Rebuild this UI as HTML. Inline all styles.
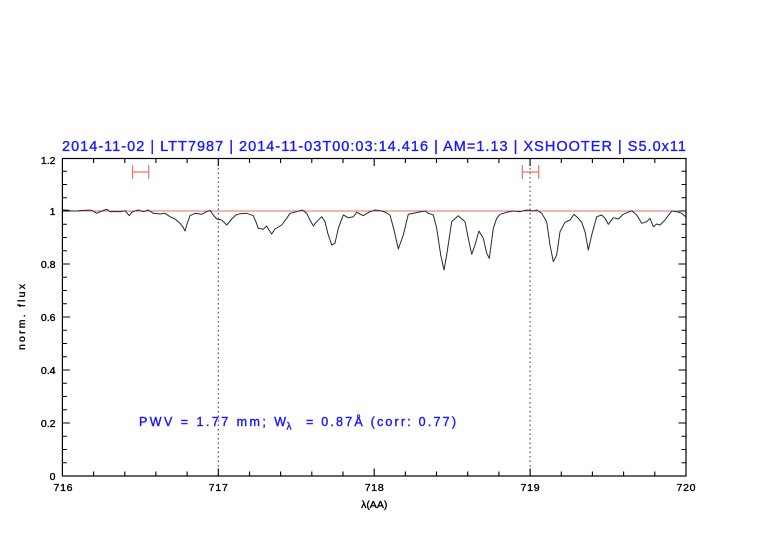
<!DOCTYPE html>
<html><head><meta charset="utf-8"><style>
html,body{margin:0;padding:0;background:#fff;}
svg{display:block;}
text{font-family:"Liberation Sans",sans-serif;}
</style></head><body>
<svg width="782" height="542" viewBox="0 0 782 542" xmlns="http://www.w3.org/2000/svg">
<rect width="782" height="542" fill="#fff"/>
<!-- title -->
<text x="62" y="151" font-size="14.5" fill="#1a1aff" textLength="624" lengthAdjust="spacing" stroke="#1a1aff" stroke-width="0.35">2014-11-02 | LTT7987 | 2014-11-03T00:03:14.416 | AM=1.13 | XSHOOTER | S5.0x11</text>

<!-- dotted verticals -->
<path d="M218.3 159V476M530.1 159V476" stroke="#333" stroke-width="1" stroke-dasharray="1.5,3" fill="none"/>

<!-- unity line -->
<path d="M62.4 211H686" stroke="#e86868" stroke-width="1" fill="none"/>

<!-- red markers -->
<g stroke="#f07070" stroke-width="1.2" fill="none">
<path d="M132.5 172H148.7M132.5 165V179M148.7 165V179"/>
<path d="M522.3 172H538.7M522.3 165V179M538.7 165V179"/>
</g>

<!-- spectrum -->
<polyline fill="none" stroke="#2a2a2a" stroke-width="1" stroke-linejoin="round" stroke-linecap="round" points="
62.4,210 66.7,210 71,211 76.7,211 81,210.5 86.7,210.3 91.7,210.3 96.7,213.3 101.7,211 106.7,209.3 110,211.7 115,211.5 120,211.7 125,210.7 129.3,215.7 131.7,212.3 135,211 138.3,210 143.3,211.7 148.3,210 153.3,213.3 160,214 165,213.3 170,216.7 175,219 180,223.3 183,227 185,231 187,224 190,215.7 195,213.3 201.7,214.3 206.7,211.7 210,210.3 213.3,215 216.7,219 221.7,220 226.7,225 231.7,219 236,215 240,213.7 246.7,213.3 253.3,215.7 256,222 258.3,228.3 263.3,229.3 266.7,226 269,230 271.7,234 275,229 281.7,225 286.7,218.3 290,213.3 296.7,211.7 302.3,210 306.7,213.3 310,220 313.3,226 316.7,221.7 321.7,216.7 325,221.7 328,234 331.7,245 335,243.3 338.3,228.3 343.3,215 348.3,217.7 353.3,216.7 356.7,212.3 360,214 363.3,215.7 370,211.7 375,210 381.7,211 386,212.5 390,215 394,230 398.3,249 403.3,235 408.3,214.3 413.3,213.3 418.3,212.3 425,211 428.3,213.3 433.3,215 436.7,228.3 440.7,255 444,270 446.7,255 451.7,221.7 458.3,215.7 465,221.7 468.3,238.3 471.7,254.3 475,245 479,231 483.3,238.3 486.7,253.3 489.3,258.3 493.3,228.3 496.7,218.3 500,214.3 506.7,212.3 513.3,211 520,211.7 526.7,210 533.3,211 536.7,210 541.7,213.3 546.7,221.7 550,245 553.3,261.7 556.7,255 560,231.7 565,222.3 570,220 574,214.3 578.3,218.3 581.7,222.3 585,231.7 588.3,250 591.7,235 596.7,216.7 601.7,215 605,218.3 608.3,224.3 613.3,217.7 618.3,219 623.3,214.3 631.7,210.7 636.7,215 641.7,223.3 646.7,221.7 650,218.3 653.3,226.7 656.7,224 660,225 665,220 671.7,211 676.7,211.7 681.7,213.3 686,217"/>

<!-- axes box -->
<rect x="62.4" y="158.5" width="623.6" height="317.5" fill="none" stroke="#000" stroke-width="1.2"/>

<!-- ticks -->
<g stroke="#000" stroke-width="1.1" fill="none">
<path d="M93.6 476v-4.5M124.8 476v-4.5M155.9 476v-4.5M187.1 476v-4.5M249.5 476v-4.5M280.6 476v-4.5M311.8 476v-4.5M343 476v-4.5M405.4 476v-4.5M436.5 476v-4.5M467.7 476v-4.5M498.9 476v-4.5M561.3 476v-4.5M592.4 476v-4.5M623.6 476v-4.5M654.8 476v-4.5"/>
<path d="M218.3 476v-7.5M374.2 476v-7.5M530.1 476v-7.5"/>
<path d="M93.6 158.5v4.5M124.8 158.5v4.5M155.9 158.5v4.5M187.1 158.5v4.5M249.5 158.5v4.5M280.6 158.5v4.5M311.8 158.5v4.5M343 158.5v4.5M405.4 158.5v4.5M436.5 158.5v4.5M467.7 158.5v4.5M498.9 158.5v4.5M561.3 158.5v4.5M592.4 158.5v4.5M623.6 158.5v4.5M654.8 158.5v4.5"/>
<path d="M218.3 158.5v7.5M374.2 158.5v7.5M530.1 158.5v7.5"/>
<path d="M62.4 462.75h4.5M62.4 449.5h4.5M62.4 436.25h4.5M62.4 409.75h4.5M62.4 396.5h4.5M62.4 383.25h4.5M62.4 356.75h4.5M62.4 343.5h4.5M62.4 330.25h4.5M62.4 303.75h4.5M62.4 290.5h4.5M62.4 277.25h4.5M62.4 250.75h4.5M62.4 237.5h4.5M62.4 224.25h4.5M62.4 197.75h4.5M62.4 184.5h4.5M62.4 171.25h4.5"/>
<path d="M62.4 423h7.5M62.4 370h7.5M62.4 317h7.5M62.4 264h7.5M62.4 211h7.5"/>
<path d="M686 462.75h-4.5M686 449.5h-4.5M686 436.25h-4.5M686 409.75h-4.5M686 396.5h-4.5M686 383.25h-4.5M686 356.75h-4.5M686 343.5h-4.5M686 330.25h-4.5M686 303.75h-4.5M686 290.5h-4.5M686 277.25h-4.5M686 250.75h-4.5M686 237.5h-4.5M686 224.25h-4.5M686 197.75h-4.5M686 184.5h-4.5M686 171.25h-4.5"/>
<path d="M686 423h-7.5M686 370h-7.5M686 317h-7.5M686 264h-7.5M686 211h-7.5"/>
</g>

<!-- y tick labels -->
<g font-size="10.5" fill="#000" text-anchor="end" stroke="#000" stroke-width="0.35">
<text x="55.5" y="164">1.2</text>
<text x="55.5" y="215">1</text>
<text x="55.5" y="268">0.8</text>
<text x="55.5" y="321">0.6</text>
<text x="55.5" y="374">0.4</text>
<text x="55.5" y="427">0.2</text>
<text x="55.5" y="480">0</text>
</g>

<!-- x tick labels -->
<g font-size="10.5" fill="#000" text-anchor="middle" stroke="#000" stroke-width="0.35">
<text x="63" y="491" textLength="19" lengthAdjust="spacing">716</text>
<text x="218.3" y="491" textLength="19" lengthAdjust="spacing">717</text>
<text x="374.2" y="491" textLength="19" lengthAdjust="spacing">718</text>
<text x="530.1" y="491" textLength="19" lengthAdjust="spacing">719</text>
<text x="686" y="491" textLength="19" lengthAdjust="spacing">720</text>
</g>

<!-- axis labels -->
<text x="374.2" y="508" font-size="10.5" text-anchor="middle" fill="#000" stroke="#000" stroke-width="0.35">λ(AA)</text>
<text transform="translate(25,317) rotate(-90)" font-size="10.5" text-anchor="middle" fill="#000" stroke="#000" stroke-width="0.35" textLength="66" lengthAdjust="spacing">norm. flux</text>

<!-- PWV annotation -->
<g fill="#1a1aff" stroke="#1a1aff" stroke-width="0.4" font-size="12.5">
<text x="139" y="426" textLength="147" lengthAdjust="spacing">PWV  =  1.77  mm;  W</text>
<text x="286.5" y="429.5" font-size="10">λ</text>
<text x="306" y="426" textLength="150" lengthAdjust="spacing">=  0.87Å  (corr:  0.77)</text>
</g>
</svg>
</body></html>
